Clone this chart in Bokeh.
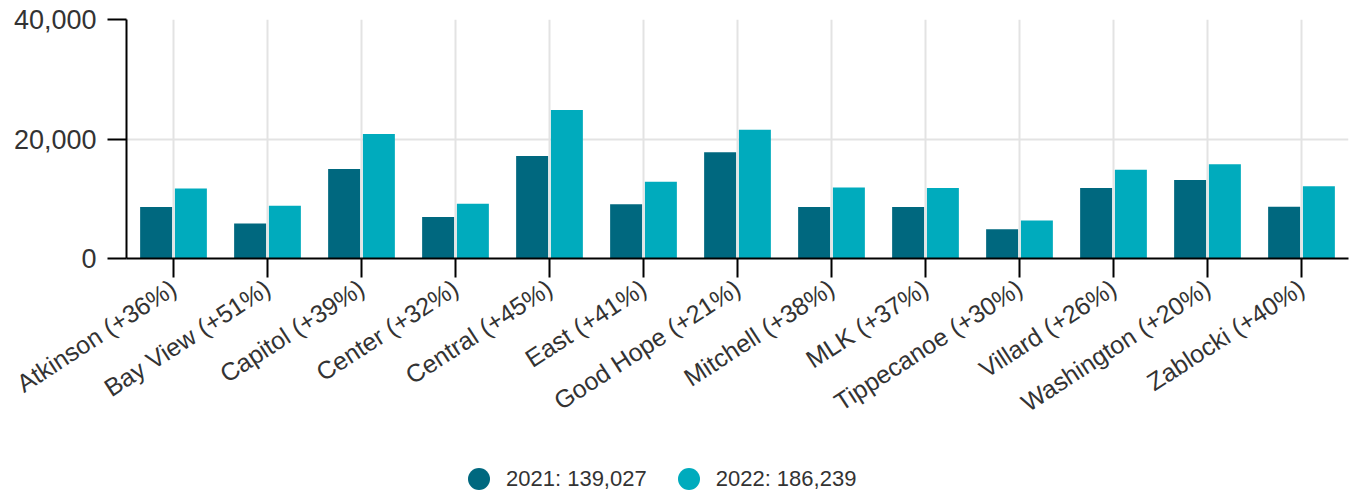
import math
from bokeh.plotting import figure
from bokeh.layouts import column
from bokeh.models import ColumnDataSource, Legend, LegendItem, NumeralTickFormatter, FactorRange
from bokeh.transform import dodge
from bokeh.embed import file_html
from bokeh.resources import INLINE

libraries = ["Atkinson", "Bay View", "Capitol", "Center", "Central", "East", "Good Hope",
             "Mitchell", "MLK", "Tippecanoe", "Villard", "Washington", "Zablocki"]
change_pct = [36, 51, 39, 32, 45, 41, 21, 38, 37, 30, 26, 20, 40]
visits_2021 = [8600, 5850, 15000, 6950, 17150, 9100, 17800, 8600, 8600, 4900, 11800, 13150, 8650]
visits_2022 = [11700, 8830, 20850, 9170, 24870, 12830, 21540, 11870, 11780, 6370, 14870, 15780, 12110]
total_2021 = 139027
total_2022 = 186239
y_ticks = [0, 20000, 40000]

labels = [f"{n} (+{c}%)" for n, c in zip(libraries, change_pct)]

C2021 = "#00687f"
C2022 = "#00abbd"
TXT = "#333333"
FONT = "Liberation Sans"

src = ColumnDataSource(dict(cat=labels, v21=visits_2021, v22=visits_2022))

p = figure(width=1356, height=431, x_range=FactorRange(*labels, range_padding=0),
           y_range=(0, 40000), output_backend="svg", toolbar_location=None,
           min_border_left=126, min_border_right=8, min_border_top=19, min_border_bottom=173)
p.outline_line_color = None

p.vbar(x=dodge("cat", -0.185, range=p.x_range), top="v21", width=0.34, source=src,
       fill_color=C2021, line_color=None)
p.vbar(x=dodge("cat", 0.185, range=p.x_range), top="v22", width=0.34, source=src,
       fill_color=C2022, line_color=None)

for g in (p.xgrid, p.ygrid):
    g.grid_line_color = "#e3e3e3"
    g.grid_line_width = 2
p.ygrid.ticker = y_ticks

p.yaxis.ticker = y_ticks
p.yaxis.formatter = NumeralTickFormatter(format="0,0")
for ax in (p.xaxis, p.yaxis):
    ax.axis_line_color = "black"
    ax.axis_line_width = 2
    ax.major_tick_line_color = "black"
    ax.major_tick_line_width = 2
    ax.major_tick_out = 19
    ax.major_tick_in = 0
    ax.minor_tick_line_color = None
    ax.major_label_text_color = TXT
    ax.major_label_text_font = FONT
p.yaxis.major_label_text_font_size = "27px"
p.yaxis.major_label_standoff = 11
p.xaxis.major_label_text_font_size = "25px"
p.xaxis.major_label_orientation = math.radians(33)
p.xaxis.major_label_standoff = 8

# legend strip
lf = figure(width=1356, height=63, x_range=(0, 1), y_range=(0, 1), output_backend="svg",
            toolbar_location=None, min_border=0, min_border_left=0, min_border_right=0,
            min_border_top=0, min_border_bottom=0)
lf.axis.visible = False
lf.grid.visible = False
lf.outline_line_color = None
d1 = lf.scatter(x=[0.5], y=[-5], marker="circle", fill_color=C2021, line_color=None)
d2 = lf.scatter(x=[0.5], y=[-5], marker="circle", fill_color=C2022, line_color=None)

legend = Legend(items=[LegendItem(label=f"2021: {total_2021:,}", renderers=[d1]),
                       LegendItem(label=f"2022: {total_2022:,}", renderers=[d2])],
                orientation="horizontal", location=(325, -12),
                glyph_width=55, glyph_height=55, label_standoff=0, spacing=14,
                padding=0, margin=0, border_line_color=None, background_fill_alpha=0,
                label_text_font=FONT, label_text_font_size="22px", label_text_color=TXT)
lf.add_layout(legend, "center")

layout = column(p, lf, spacing=0)
open("out.html", "w").write(file_html(layout, INLINE))
